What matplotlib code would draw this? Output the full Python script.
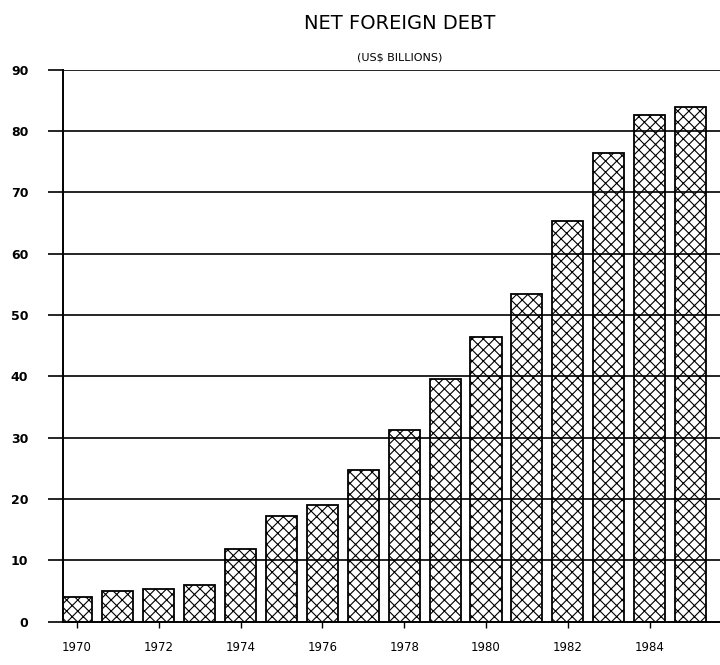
import matplotlib
matplotlib.use("Agg")
import matplotlib.pyplot as plt

# Net foreign debt, US$ billions
years = list(range(1970, 1986))
debt = [4.0, 5.0, 5.3, 6.0, 11.8, 17.3, 19.0, 24.7, 31.3, 39.6,
        46.5, 53.5, 65.3, 76.5, 82.7, 84.0]
yticks = [0, 10, 20, 30, 40, 50, 60, 70, 80, 90]
xticks = [1970, 1972, 1974, 1976, 1978, 1980, 1982, 1984]

plt.rcParams["hatch.linewidth"] = 0.8

fig = plt.figure(figsize=(7.2, 6.65), dpi=100)
ax = fig.add_axes([0.0875, 0.065, 0.9125, 0.83])

for y in yticks[1:]:
    ax.axhline(y, color="black", lw=1.2, zorder=1)

ax.bar(years, debt, width=0.76, facecolor="none", edgecolor="black",
       hatch="xxx", lw=1.3, zorder=2)

ax.set_xlim(1969.66, 1985.72)
ax.set_ylim(0, 90)
ax.set_yticks(yticks)
ax.set_xticks(xticks)
ax.tick_params(axis="y", direction="out", length=11, width=1.2, labelsize=9, pad=14)
ax.tick_params(axis="x", direction="out", length=4, width=1, labelsize=8.5, pad=10)
for lbl in ax.get_yticklabels():
    lbl.set_fontweight("bold")

for side in ["top", "right"]:
    ax.spines[side].set_visible(False)
ax.spines["left"].set_linewidth(1.4)
ax.spines["bottom"].set_linewidth(1.4)

fig.text(0.555, 0.965, "NET FOREIGN DEBT", ha="center", va="center", fontsize=14,
         color="black")
fig.text(0.555, 0.913, "(US$ BILLIONS)", ha="center", va="center", fontsize=8,
         color="black")

fig.savefig("out.png", dpi=100)
